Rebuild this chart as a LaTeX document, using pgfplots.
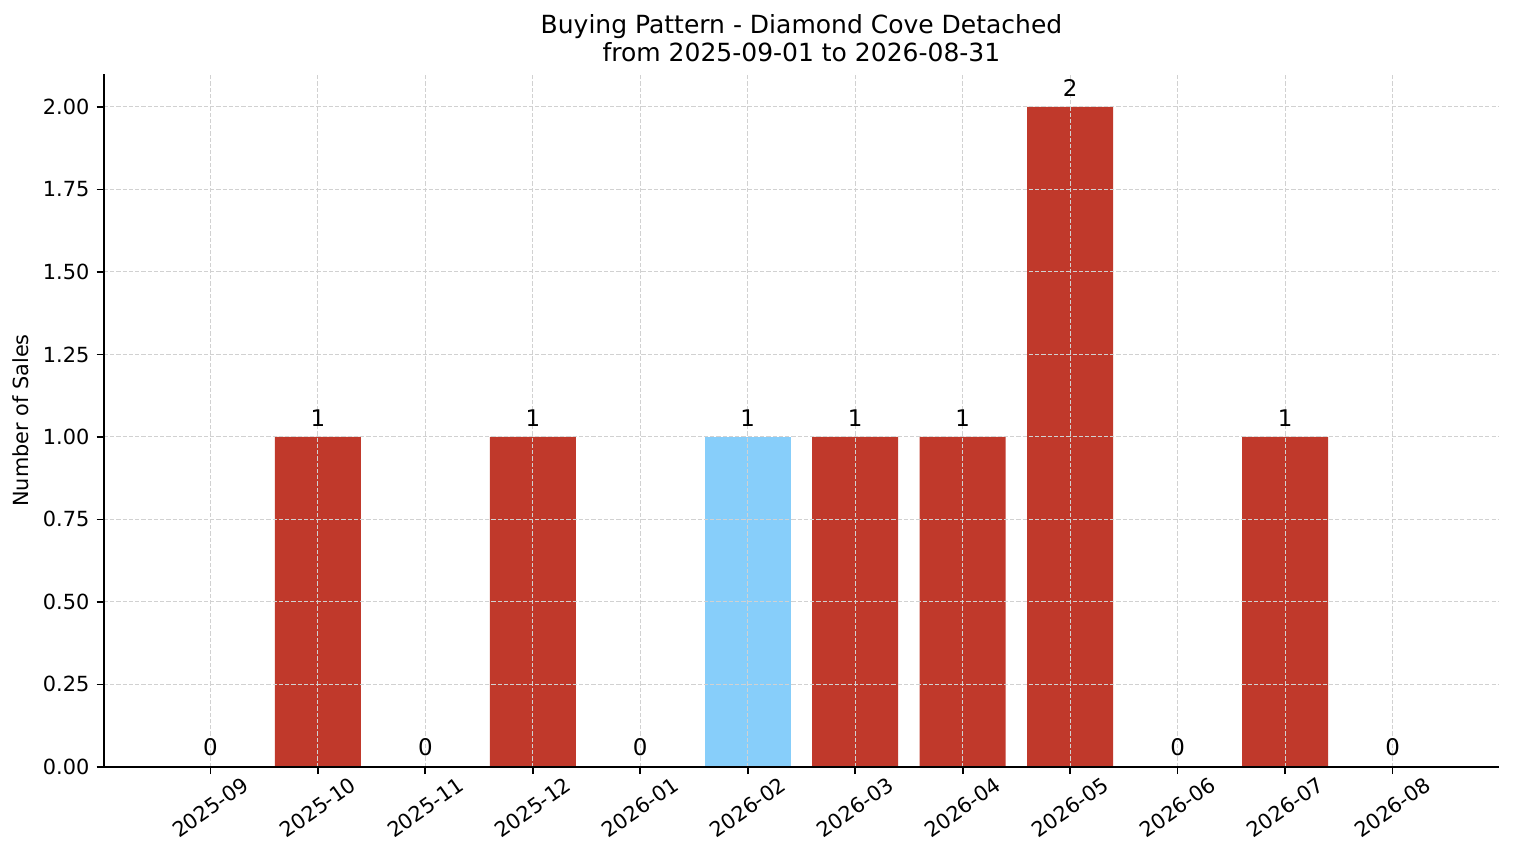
\documentclass[border=0pt]{standalone}
\usepackage{pgfplots}
\pgfplotsset{compat=1.18}
\usepackage{fontspec}
\setmainfont{DejaVu Sans}
\definecolor{barred}{HTML}{C0392B}
\definecolor{barblue}{HTML}{87CEFA}
\begin{document}
\begin{tikzpicture}
\begin{axis}[
    name=ax,
    scale only axis,
    width=669.6pt, height=332.6pt,
    xmin=-0.99, xmax=11.99,
    ymin=0, ymax=2.1,
    axis x line*=bottom, axis y line*=left,
    axis line style={line width=0.8pt, black},
    tick style={line width=0.8pt, black},
    tick align=outside, major tick length=3.5pt,
    xtick={0,...,11},
    xticklabels={2025-09,2025-10,2025-11,2025-12,2026-01,2026-02,2026-03,2026-04,2026-05,2026-06,2026-07,2026-08},
    xticklabel shift=16pt,
    xticklabel style={rotate=35, anchor=center, font=\fontsize{10}{12}\selectfont},
    ytick={0,0.25,...,2.0},
    yticklabel style={font=\fontsize{10}{12}\selectfont},
    /pgf/number format/.cd, fixed, fixed zerofill, precision=2, assume math mode=true,
    /pgfplots/.cd,
    ylabel={Number of Sales},
    ylabel style={font=\fontsize{10}{12}\selectfont},
    grid=major,
    major grid style={line width=0.5pt, black!18, dash pattern=on 2pt off 1pt},
    axis on top,
    ybar, bar width=0.8, bar shift=0pt,
    nodes near coords,
    nodes near coords style={font=\fontsize{11}{13}\selectfont, anchor=south, inner sep=0pt, yshift=5pt, /pgf/number format/precision=0, /pgf/number format/fixed zerofill=false},
]
\addplot[fill=barred, draw=none] coordinates {
    (0,0) (1,1) (2,0) (3,1) (4,0) (6,1) (7,1) (8,2) (9,0) (10,1) (11,0)
};
\addplot[fill=barblue, draw=none] coordinates {
    (5,1)
};
\end{axis}
% title, two lines
\node[anchor=base, font=\fontsize{12}{14.4}\selectfont] at ([yshift=19.2pt]ax.north) {Buying Pattern - Diamond Cove Detached};
\node[anchor=base, font=\fontsize{12}{14.4}\selectfont] at ([yshift=5.8pt]ax.north) {from 2025-09-01 to 2026-08-31};
\pgfresetboundingbox
\useasboundingbox ([xshift=-49.9pt, yshift=-46.1pt]ax.south west) rectangle ++(726.7pt,414.2pt);
\end{tikzpicture}
\end{document}
